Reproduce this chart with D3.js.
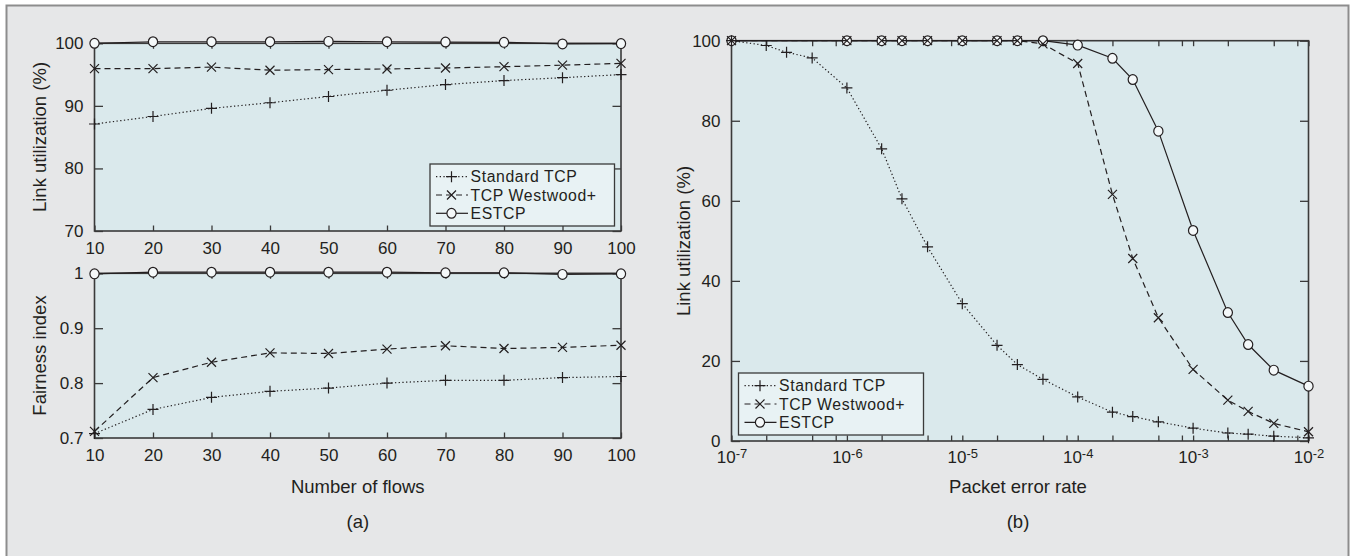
<!DOCTYPE html>
<html><head><meta charset="utf-8">
<script src="https://cdn.jsdelivr.net/npm/d3@7"></script>
<style>
body{margin:0;background:#fff}
svg{display:block}
text{font-family:'Liberation Sans',Arial,sans-serif;fill:#231f20}
</style>
</head><body>
<svg id="c" width="1350" height="556"></svg>
<script>
// ---------- data ----------
const flows = [10, 20, 30, 40, 50, 60, 70, 80, 90, 100];
const utilStandard = [87.1, 88.3, 89.6, 90.5, 91.5, 92.5, 93.4, 94.05, 94.5, 95.0];
const utilWestwood = [95.95, 95.95, 96.2, 95.7, 95.8, 95.9, 96.05, 96.26, 96.5, 96.8];
const utilEstcp = [100.0, 100.25, 100.25, 100.25, 100.3, 100.25, 100.2, 100.15, 99.9, 99.95];
const fairStandard = [0.708, 0.752, 0.774, 0.785, 0.791, 0.8, 0.805, 0.805, 0.81, 0.812];
const fairWestwood = [0.712, 0.81, 0.838, 0.855, 0.854, 0.862, 0.868, 0.863, 0.865, 0.869];
const fairEstcp = [0.999, 1.002, 1.002, 1.002, 1.002, 1.002, 1.001, 1.001, 0.998, 0.999];

const perStandard = [1e-7, 2e-7, 3e-7, 5e-7, 1e-6, 2e-6, 3e-6, 5e-6, 1e-5, 2e-5, 3e-5, 5e-5, 1e-4, 2e-4, 3e-4, 5e-4, 1e-3, 2e-3, 3e-3, 5e-3, 1e-2];
const linkStandard = [100, 98.8, 97.1, 95.7, 88.2, 73.0, 60.5, 48.5, 34.3, 23.9, 19.1, 15.4, 11.0, 7.2, 6.1, 4.8, 3.2, 2.0, 1.7, 1.2, 0.8];
const perOthers = [1e-7, 1e-6, 2e-6, 3e-6, 5e-6, 1e-5, 2e-5, 3e-5, 5e-5, 1e-4, 2e-4, 3e-4, 5e-4, 1e-3, 2e-3, 3e-3, 5e-3, 1e-2];
const linkWestwood = [100, 100, 100, 100, 100, 100, 100, 100, 99.2, 94.3, 61.6, 45.6, 30.8, 17.9, 10.2, 7.4, 4.4, 2.3];
const linkEstcp = [100, 100, 100, 100, 100, 100, 100, 100, 100, 98.9, 95.6, 90.3, 77.4, 52.6, 32.1, 24.1, 17.7, 13.7];

const seriesNames = ["Standard TCP", "TCP Westwood+", "ESTCP"];
const flowTicks = [10, 20, 30, 40, 50, 60, 70, 80, 90, 100];
const utilTicks = [70, 80, 90, 100];
const fairTicks = [0.7, 0.8, 0.9, 1];
const fairLabels = ["0.7", "0.8", "0.9", "1"];
const linkTicks = [0, 20, 40, 60, 80, 100];
const perTicks = [1e-7, 1e-6, 1e-5, 1e-4, 1e-3, 1e-2];
const perMinor = [2, 5, 8];
const titles = {utilY: "Link utilization (%)", fairY: "Fairness index", flowsX: "Number of flows",
  linkY: "Link  utilization (%)", perX: "Packet error rate", a: "(a)", b: "(b)"};

// ---------- styling ----------
const INK = "#231f20", AX = "#3a3a3a", PLOTBG = "#dae9ec", FIGBG = "#e6e7e8", LEGBG = "#e8f2f4";
const styles = [
  {dash: "1.3,2.4", marker: "plus"},
  {dash: "6,4", marker: "cross"},
  {dash: null, marker: "circle"}
];

const svg = d3.select("#c");
svg.append("rect").attr("x", 6).attr("y", 5).attr("width", 1342).attr("height", 551).attr("fill", FIGBG);
svg.append("path").attr("d", "M6.5,556V5.5H1348.5V556").attr("fill", "none").attr("stroke", "#8d8d8d").attr("stroke-width", 2);

function markerPath(type) {
  if (type === "plus") return "M-5.5,0H5.5M0,-5.5V5.5";
  if (type === "cross") return "M-4.5,-4.5L4.5,4.5M-4.5,4.5L4.5,-4.5";
  return null;
}
function drawMarker(g, type, x, y) {
  if (type === "circle") {
    g.append("ellipse").attr("cx", x).attr("cy", y).attr("rx", 4.6).attr("ry", 4.9)
      .attr("fill", "#f4f8f9").attr("stroke", INK).attr("stroke-width", 1.2);
  } else {
    g.append("path").attr("transform", `translate(${x},${y})`).attr("d", markerPath(type))
      .attr("fill", "none").attr("stroke", INK).attr("stroke-width", 1.2);
  }
}
function drawSeries(g, xs, ys, xScale, yScale, st) {
  const line = d3.line().x((d, i) => xScale(xs[i])).y(d => yScale(d));
  g.append("path").datum(ys).attr("d", line).attr("fill", "none").attr("stroke", INK)
    .attr("stroke-width", 1.2).attr("stroke-dasharray", st.dash);
  ys.forEach((v, i) => drawMarker(g, st.marker, xScale(xs[i]), yScale(v)));
}
function frame(g, x, y) {
  const [x0, x1] = x.range(), [y0, y1] = y.range();
  g.append("rect").attr("x", x0).attr("y", y1).attr("width", x1 - x0).attr("height", y0 - y1).attr("fill", PLOTBG);
}
function box(g, x, y) {
  const [x0, x1] = x.range(), [y0, y1] = y.range();
  g.append("rect").attr("x", x0).attr("y", y1).attr("width", x1 - x0).attr("height", y0 - y1)
    .attr("fill", "none").attr("stroke", AX).attr("stroke-width", 1.6);
}
function styleAxis(sel) {
  sel.select(".domain").remove();
  sel.selectAll(".tick line").attr("stroke", AX).attr("stroke-width", 1.3);
  sel.selectAll(".tick text").attr("font-size", 17).attr("fill", INK).attr("font-family", "'Liberation Sans',Arial,sans-serif");
}
function axesLinear(g, x, y, xTicks, yTicks, yFmt, xPad) {
  const [x0, x1] = x.range(), [y0, y1] = y.range();
  g.append("g").attr("transform", `translate(0,${y0})`)
    .call(d3.axisBottom(x).tickValues(xTicks).tickSizeInner(-5.5).tickSizeOuter(0).tickPadding(xPad).tickFormat(d3.format("d"))).call(styleAxis);
  g.append("g").attr("transform", `translate(0,${y1})`)
    .call(d3.axisTop(x).tickValues(xTicks).tickSizeInner(-5.5).tickSizeOuter(0).tickFormat("")).call(styleAxis);
  g.append("g").attr("transform", `translate(${x0},0)`)
    .call(d3.axisLeft(y).tickValues(yTicks).tickSizeInner(-8.5).tickSizeOuter(0).tickPadding(11).tickFormat(yFmt)).call(styleAxis);
  g.append("g").attr("transform", `translate(${x1},0)`)
    .call(d3.axisRight(y).tickValues(yTicks).tickSizeInner(-8.5).tickSizeOuter(0).tickFormat("")).call(styleAxis);
}
function legend(g, x, y, w, h, rows) {
  g.append("rect").attr("x", x).attr("y", y).attr("width", w).attr("height", h)
    .attr("fill", LEGBG).attr("stroke", AX).attr("stroke-width", 1.3);
  rows.forEach((name, i) => {
    const cy = y + 12.7 + i * 18.3;
    const st = styles[i];
    g.append("line").attr("x1", x + 6).attr("x2", x + 38).attr("y1", cy).attr("y2", cy)
      .attr("stroke", INK).attr("stroke-width", 1.2).attr("stroke-dasharray", st.dash);
    drawMarker(g, st.marker, x + 21.5, cy);
    g.append("text").attr("x", x + 40.5).attr("y", cy).attr("dy", "0.36em").attr("font-size", 15.8)
      .attr("letter-spacing", 0.6).text(name);
  });
}
function yTitle(g, text, cx, cy) {
  g.append("text").attr("transform", `translate(${cx},${cy}) rotate(-90)`).attr("text-anchor", "middle")
    .attr("dy", "0.36em").attr("font-size", 18.5).text(text);
}

// ---------- panel (a) top ----------
const gA = svg.append("g");
const xA = d3.scaleLinear().domain([10, 100]).range([94.5, 621]);
const yU = d3.scaleLinear().domain([70, 100]).range([231, 43.3]);
frame(gA, xA, yU);
axesLinear(gA, xA, yU, flowTicks, utilTicks, d3.format("d"), 10.5);
box(gA, xA, yU);
drawSeries(gA, flows, utilEstcp, xA, yU, styles[2]);
drawSeries(gA, flows, utilWestwood, xA, yU, styles[1]);
drawSeries(gA, flows, utilStandard, xA, yU, styles[0]);
legend(gA, 430, 164, 184.5, 62, seriesNames);
yTitle(gA, titles.utilY, 39, 137);

// ---------- panel (a) bottom ----------
const yF = d3.scaleLinear().domain([0.7, 1]).range([438, 273.3]);
frame(gA, xA, yF);
axesLinear(gA, xA, yF, flowTicks, fairTicks, (d, i) => fairLabels[i], 11);
box(gA, xA, yF);
drawSeries(gA, flows, fairEstcp, xA, yF, styles[2]);
drawSeries(gA, flows, fairWestwood, xA, yF, styles[1]);
drawSeries(gA, flows, fairStandard, xA, yF, styles[0]);
yTitle(gA, titles.fairY, 39, 355.5);
gA.append("text").attr("x", 357.8).attr("y", 493).attr("text-anchor", "middle").attr("font-size", 18.5).text(titles.flowsX);
gA.append("text").attr("x", 357.8).attr("y", 528).attr("text-anchor", "middle").attr("font-size", 18.5).text(titles.a);

// ---------- panel (b) ----------
const gB = svg.append("g");
const xB = d3.scaleLog().domain([1e-7, 1e-2]).range([731.5, 1308.5]);
const yB = d3.scaleLinear().domain([0, 100]).range([441, 40.7]);
frame(gB, xB, yB);
const minorVals = [];
perTicks.slice(0, -1).forEach(t => perMinor.forEach(m => minorVals.push(t * m)));
function expLabel(sel) {
  sel.selectAll(".tick text").text(null).each(function(d) {
    const t = d3.select(this);
    t.append("tspan").text("10");
    t.append("tspan").attr("dy", -5.5).attr("font-size", 13).text(String(Math.round(Math.log10(d))));
  });
}
gB.append("g").attr("transform", `translate(0,${yB.range()[0]})`)
  .call(d3.axisBottom(xB).tickValues(perTicks).tickSizeInner(-5.5).tickSizeOuter(0).tickPadding(10).tickFormat(() => "x"))
  .call(styleAxis).call(expLabel);
gB.append("g").attr("transform", `translate(0,${yB.range()[0]})`)
  .call(d3.axisBottom(xB).tickValues(minorVals).tickSizeInner(-5.5).tickSizeOuter(0).tickFormat("")).call(styleAxis);
gB.append("g").attr("transform", `translate(0,${yB.range()[1]})`)
  .call(d3.axisTop(xB).tickValues(perTicks.concat(minorVals)).tickSizeInner(-5.5).tickSizeOuter(0).tickFormat("")).call(styleAxis);
gB.append("g").attr("transform", `translate(${xB.range()[0]},0)`)
  .call(d3.axisLeft(yB).tickValues(linkTicks).tickSizeInner(-8.5).tickSizeOuter(0).tickPadding(11).tickFormat(d3.format("d"))).call(styleAxis);
gB.append("g").attr("transform", `translate(${xB.range()[1]},0)`)
  .call(d3.axisRight(yB).tickValues(linkTicks).tickSizeInner(-8.5).tickSizeOuter(0).tickFormat("")).call(styleAxis);
box(gB, xB, yB);
drawSeries(gB, perOthers, linkEstcp, xB, yB, styles[2]);
drawSeries(gB, perOthers, linkWestwood, xB, yB, styles[1]);
drawSeries(gB, perStandard, linkStandard, xB, yB, styles[0]);
legend(gB, 738.5, 373, 185, 62, seriesNames);
yTitle(gB, titles.linkY, 683, 241);
gB.append("text").attr("x", 1018).attr("y", 493).attr("text-anchor", "middle").attr("font-size", 18.5).text(titles.perX);
gB.append("text").attr("x", 1018).attr("y", 528).attr("text-anchor", "middle").attr("font-size", 18.5).text(titles.b);
</script>
</body></html>
